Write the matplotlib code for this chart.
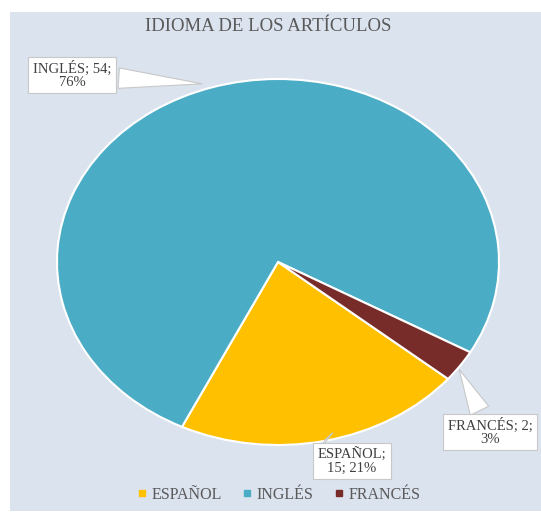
import matplotlib.pyplot as plt
from matplotlib.patches import Rectangle
from matplotlib.lines import Line2D

# datos del gráfico
idiomas = ["ESPAÑOL", "INGLÉS", "FRANCÉS"]
articulos = [15, 54, 2]
colores = ["#ffc000", "#4bacc6", "#772c2a"]
titulo = "IDIOMA DE LOS ARTÍCULOS"

plt.rcParams["font.family"] = ["Liberation Serif", "DejaVu Serif"]

W, H = 541, 516
fig = plt.figure(figsize=(W / 100, H / 100), dpi=100, facecolor="white")

# panel de fondo
fig.patches.append(Rectangle((10 / W, 5 / H), 1 - 10 / W, (511 - 12) / H,
                             transform=fig.transFigure, facecolor="#dbe3ef",
                             edgecolor="none", zorder=-10))

# elipse: centro (278,262), rx 221, ry 183 (pixeles desde arriba)
ax = fig.add_axes([57 / W, (H - 445) / H, 442 / W, 366 / H])
ax.pie(articulos, colors=colores, startangle=-39.7, counterclock=False,
       wedgeprops=dict(edgecolor="white", linewidth=1.5), radius=1)
ax.set_aspect("auto")
ax.set_xlim(-1, 1)
ax.set_ylim(-1, 1)
ax.axis("off")

fig.text(268 / W, 1 - 26.5 / H, titulo, ha="center", va="center",
         fontsize=13.5, color="#595959")

# etiquetas de datos con flecha tipo globo
total = sum(articulos)
cortes = [1, 2, 2]
cajas = [(352, 461), (72, 75), (490, 432)]
puntas = [(325, 440), (205, 84), (458, 367)]
for n, v, c, caja, punta in zip(idiomas, articulos, cortes, cajas, puntas):
    partes = [f"{n};", f"{v};", f"{round(v / total * 100)}%"]
    txt = " ".join(partes[:c]) + "\n" + " ".join(partes[c:])
    an = ax.annotate(txt, xy=(punta[0], H - punta[1]), xycoords="figure pixels",
                     xytext=(caja[0], H - caja[1]), textcoords="figure pixels",
                     ha="center", va="center",
                     fontsize=10.5, color="#404040", linespacing=1.0, zorder=10,
                     bbox=dict(boxstyle="square,pad=0.3", fc="white", ec="#c8c8c8", lw=0.8),
                     arrowprops=dict(arrowstyle="wedge,tail_width=1.4,shrink_factor=0.5",
                                     fc="white", ec="#c8c8c8", lw=0.8),
                     annotation_clip=False)
    an.set_multialignment("center")

handles = [Line2D([], [], marker="s", ls="none", markersize=5,
                  markerfacecolor=c, markeredgecolor=c) for c in colores]
fig.legend(handles, idiomas, loc="center", bbox_to_anchor=(278 / W, 1 - 495 / H),
           ncol=3, frameon=False, fontsize=11.5, labelcolor="#595959",
           handletextpad=0.2, columnspacing=1.2, handlelength=0.8)

fig.savefig("out.png", dpi=100, facecolor="white")
